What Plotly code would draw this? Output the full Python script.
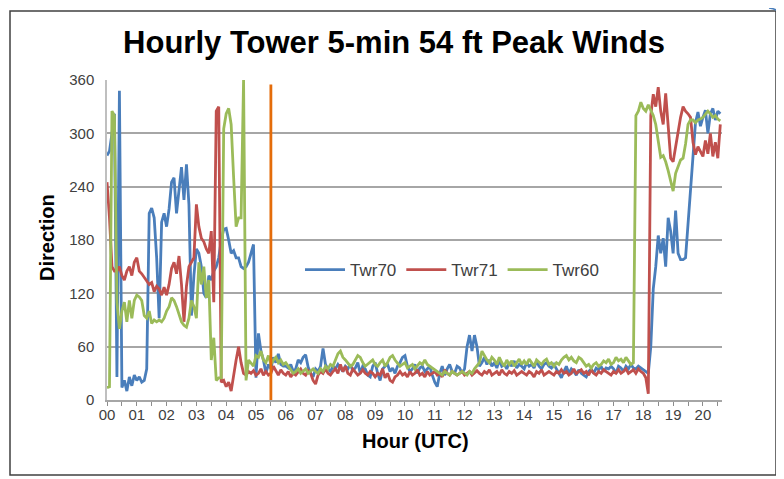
import plotly.graph_objects as go

# 5-minute samples, 00:00 .. 20:35 UTC (one row per hour)
twr70 = [
    275, 280, 300, 322, 26, 348, 14, 22, 10, 26, 16, 28,
    22, 26, 20, 22, 35, 210, 216, 205, 160, 92, 200, 210,
    195, 215, 245, 250, 210, 235, 262, 225, 265, 220, 95, 140,
    170, 165, 150, 120, 115, 140, 135, 145, 150, 160, 180, 192,
    193, 180, 165, 168, 160, 160, 150, 148, 150, 155, 165, 175,
    25, 75, 55, 45, 30, 40, 35, 48, 42, 52, 40, 38,
    38, 36, 40, 32, 35, 45, 42, 48, 51, 37, 30, 26,
    35, 32, 38, 58, 40, 35, 32, 38, 35, 40, 36, 32,
    38, 35, 40, 33, 36, 42, 30, 38, 35, 28, 26, 38,
    42, 30, 22, 35, 38, 40, 32, 36, 30, 38, 42, 48,
    50, 38, 32, 35, 40, 30, 36, 38, 32, 35, 38, 28,
    20, 15, 30, 38, 28, 35, 40, 32, 30, 38, 36, 30,
    35, 60, 73, 55, 73, 60, 38, 42, 48, 40, 45, 38,
    42, 36, 45, 38, 40, 35, 42, 38, 44, 36, 40, 38,
    35, 42, 38, 40, 36, 44, 38, 35, 40, 42, 38, 36,
    40, 35, 30, 25, 32, 38, 30, 35, 32, 28, 34, 30,
    28, 26, 32, 35, 30, 36, 34, 38, 32, 36, 35, 38,
    35, 30, 38, 36, 32, 38, 35, 40, 36, 35, 38, 36,
    35, 32, 30, 60, 125, 150, 185, 165, 182, 150, 205, 190,
    165, 213, 165, 158, 158, 160, 200, 230, 280, 312, 324, 308,
    318, 326, 300, 322, 328, 315, 325, 322,
]
twr71 = [
    245, 205, 150, 145, 145, 150, 140, 135, 145, 150, 140, 155,
    160, 145, 142, 138, 135, 130, 132, 122, 128, 125, 118, 127,
    118, 130, 148, 155, 142, 162, 130, 88, 128, 150, 155, 160,
    220, 195, 182, 178, 170, 165, 190, 110, 325, 330, 20, 22,
    15, 20, 10, 30, 45, 60, 42, 30, 28, 32, 30, 33,
    28, 30, 35, 28, 32, 28, 30, 38, 32, 28, 34, 30,
    28, 32, 26, 30, 28, 32, 35, 30, 28, 33, 30, 22,
    18, 28, 32, 30, 35, 30, 28, 32, 35, 30, 40, 32,
    38, 30, 28, 35, 32, 28, 30, 34, 30, 28, 32, 30,
    26, 30, 28, 35, 25, 30, 22, 20, 26, 28, 32, 28,
    30, 26, 32, 28, 30, 34, 28, 30, 26, 32, 28, 30,
    32, 28, 30, 26, 34, 30, 28, 32, 30, 28, 30, 32,
    28, 30, 32, 28, 30, 33, 30, 28, 32, 30, 34, 28,
    30, 32, 28, 34, 30, 28, 32, 30, 33, 28, 30, 32,
    30, 28, 32, 30, 26, 32, 30, 34, 28, 30, 32, 30,
    28, 32, 30, 34, 30, 32, 28, 30, 35, 30, 32, 34,
    30, 32, 28, 34, 30, 28, 32, 30, 34, 32, 30, 28,
    32, 30, 34, 30, 32, 35, 30, 32, 34, 30, 35, 32,
    30, 25, 7, 320, 344, 330, 352, 325, 310, 345, 305, 272,
    268, 285, 300, 318, 330, 325, 322, 318, 290, 276, 285, 280,
    274, 292, 277, 300, 274, 290, 272, 310,
]
twr60 = [
    14, 15, 325, 320, 110, 80, 100, 110, 88, 112, 92, 112,
    118, 116, 112, 95, 92, 100, 86, 90, 88, 90, 88, 92,
    100, 105, 115, 112, 105, 95, 88, 84, 82, 92, 112, 105,
    92, 155, 130, 150, 115, 135, 45, 70, 22, 25, 25, 305,
    322, 328, 310, 250, 195, 205, 205, 360, 22, 45, 42, 38,
    50, 48, 55, 45, 42, 50, 40, 45, 48, 42, 45, 40,
    42, 38, 35, 30, 32, 35, 30, 32, 35, 30, 32, 35,
    32, 30, 35, 32, 38, 35, 40, 38, 45, 52, 55, 48,
    45, 42, 38, 40, 45, 50, 48, 42, 38, 40, 42, 45,
    40, 38, 42, 45, 38, 42, 48, 50, 45, 42, 38, 40,
    42, 36, 38, 40, 35, 38, 42, 40, 45, 40, 38, 36,
    35, 32, 30, 28, 32, 30, 28, 32, 30, 28, 30, 32,
    30, 28, 32, 30, 35, 38, 42, 55, 50, 45, 42, 48,
    45, 40, 48, 42, 38, 45, 40, 44, 38, 42, 46, 40,
    44, 40, 46, 42, 38, 45, 42, 40, 44, 46, 40, 42,
    38, 42, 40, 45, 48, 50, 45, 48, 44, 42, 48, 46,
    42, 38, 40, 36, 40, 42, 38, 40, 44, 42, 46, 40,
    42, 48, 44, 46, 42, 48, 44, 40, 42, 320, 325, 335,
    328, 325, 332, 325, 320, 310, 292, 273, 275, 268, 258, 245,
    235, 255, 262, 270, 272, 288, 310, 315, 315, 312, 315, 316,
    318, 322, 325, 322, 318, 320, 316, 314,
]
hours = [i * 5 / 60 for i in range(len(twr70))]
hour_labels = ["%02d" % h for h in range(21)]
event_hour = 5.5
event_top = 355


# page pixel -> paper coords (plot area spans x 107..722, y 80..400 on the page)
def px(x):
    return (x - 107) / 615


def py(y):
    return (400 - y) / 320


fig = go.Figure()
series = [("Twr70", twr70, "#4a7ebb"), ("Twr71", twr71, "#c0504d"), ("Twr60", twr60, "#9bbb59")]
for name, vals, col in series:
    fig.add_trace(go.Scatter(x=hours, y=vals, mode="lines", name=name,
                             line=dict(color=col, width=2.8)))

# marker line for the event time
fig.add_trace(go.Scatter(x=[event_hour, event_hour], y=[0, event_top], mode="lines",
                         line=dict(color="#e46c0a", width=2.8), showlegend=False,
                         hoverinfo="skip"))

# body has an 8px margin, so the figure is 8px smaller than the window
fig.update_layout(
    width=776, height=471,
    margin=dict(l=99, r=62, t=72, b=79),
    paper_bgcolor="white", plot_bgcolor="white",
    font=dict(family="Liberation Sans, Arial, sans-serif", color="#404040"),
    title=dict(text="<b>Hourly Tower 5-min 54 ft Peak Winds</b>", x=386 / 776, xanchor="center",
               y=1 - 34 / 471, yanchor="middle", font=dict(size=31, color="black")),
    showlegend=True,
    legend=dict(orientation="h", x=px(300), y=py(270), xanchor="left", yanchor="middle",
                bgcolor="rgba(0,0,0,0)", font=dict(size=17, color="#404040"),
                itemwidth=40, tracegroupgap=0),
    xaxis=dict(range=[0, 20.64], tickvals=list(range(21)), ticktext=hour_labels,
               showgrid=False, zeroline=False, showline=True, linecolor="#a6a6a6",
               linewidth=1.5, ticks="outside", ticklen=4, tickcolor="#8c8c8c",
               ticklabelstandoff=-4, tickfont=dict(size=15, color="#404040"),
               minor=dict(dtick=0.5, tick0=0, ticks="outside", ticklen=4,
                          tickcolor="#8c8c8c")),
    yaxis=dict(range=[0, 360], dtick=60, showgrid=True, gridcolor="#a6a6a6", gridwidth=2,
               zeroline=False, showline=True, linecolor="#bfbfbf", linewidth=1.5,
               ticklabelstandoff=8,
               tickfont=dict(size=15, color="#404040"), ticks=""),
    annotations=[
        dict(text="<b>Direction</b>", x=px(47), y=py(238), xref="paper", yref="paper",
             xanchor="center", yanchor="middle", textangle=-90, showarrow=False,
             font=dict(size=20, color="black")),
        dict(text="<b>Hour (UTC)</b>", x=px(415), y=py(441), xref="paper", yref="paper",
             xanchor="center", yanchor="middle", showarrow=False,
             font=dict(size=20, color="black")),
    ],
    shapes=[
        dict(type="rect", xref="paper", yref="paper",
             x0=px(10), x1=px(776), y0=py(475), y1=py(11),
             line=dict(color="#404040", width=1.5), fillcolor="rgba(0,0,0,0)", layer="above"),
        dict(type="path", xref="paper", yref="paper",
             path="M %f,%f Q %f,%f %f,%f" % (px(769), py(8), px(780), py(9), px(784), py(19)),
             line=dict(color="#4a7ebb", width=1.5)),
    ],
)

fig.write_html("out.html")
